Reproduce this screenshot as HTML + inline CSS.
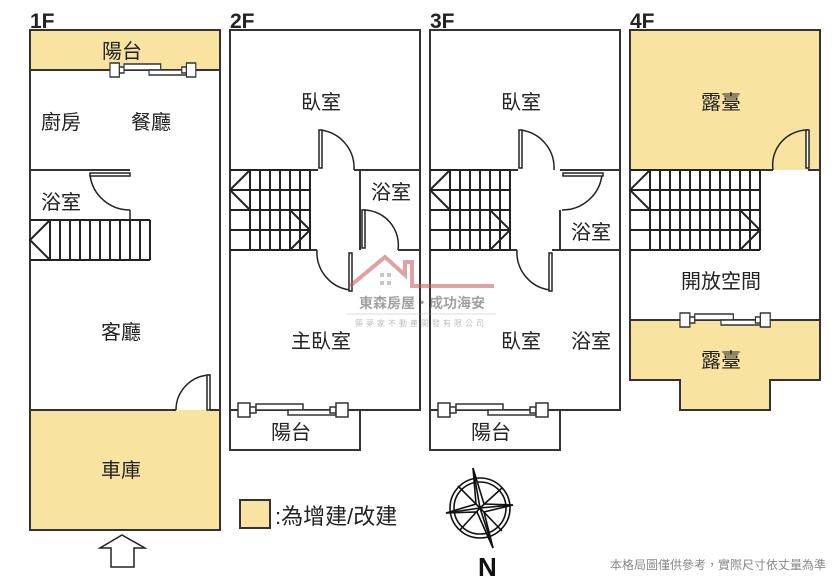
<!DOCTYPE html>
<html><head><meta charset="utf-8"><style>
html,body{margin:0;padding:0;background:#fff;}
svg{display:block;}
text{font-family:"Liberation Sans","Noto Sans CJK TC",sans-serif;fill:#222;}
</style></head><body>
<svg width="840" height="580" viewBox="0 0 840 580" xmlns="http://www.w3.org/2000/svg">
<defs>
<g id="win" fill="#fff" stroke="#333" stroke-width="1.5">
<rect x="0" y="-7" width="12" height="14"/><rect x="12" y="-3" width="6" height="6"/>
<rect x="18" y="-6" width="47" height="6"/><rect x="50" y="0" width="48" height="5"/>
<rect x="92" y="-3" width="6" height="6"/><rect x="98" y="-7" width="12" height="14"/>
</g>
</defs>
<rect width="840" height="580" fill="#fff"/>
<g fill="#f9e3a0" stroke="none">
<rect x="30" y="30" width="190" height="40"/>
<rect x="30" y="410" width="190" height="120"/>
<rect x="630" y="30" width="190" height="140"/>
<path d="M630 320H820V380H770V410H680V380H630Z"/>
<rect x="240" y="500" width="30" height="28"/>
</g>
<g fill="none" stroke="#333" stroke-width="2">
<rect x="30" y="30" width="190" height="500"/>
<line x1="30" y1="70" x2="220" y2="70"/>
<line x1="30" y1="170" x2="130" y2="170"/>
<line x1="30" y1="410" x2="176" y2="410"/>
<line x1="210" y1="410" x2="220" y2="410"/>
<path d="M230 410V30H420V410H360V450H230V410H360"/>
<line x1="230" y1="170" x2="318" y2="170"/><line x1="354" y1="170" x2="420" y2="170"/>
<line x1="360" y1="170" x2="360" y2="250"/>
<line x1="230" y1="250" x2="317" y2="250"/><line x1="398" y1="250" x2="420" y2="250"/>
<path d="M430 410V30H620V410H560V450H430V410H560"/>
<line x1="430" y1="170" x2="518" y2="170"/><line x1="560" y1="170" x2="620" y2="170"/>
<line x1="560" y1="210" x2="560" y2="250"/>
<line x1="430" y1="250" x2="517" y2="250"/><line x1="552" y1="250" x2="620" y2="250"/>
<path d="M630 30H820V380H770V410H680V380H630Z"/>
<line x1="630" y1="170" x2="773" y2="170"/><line x1="808" y1="170" x2="820" y2="170"/>
<line x1="630" y1="320" x2="820" y2="320"/>
<rect x="240" y="500" width="30" height="28"/>
</g>
<g fill="none" stroke="#222" stroke-width="2">
<path d="M30 220H150M30 260H150M50 220V260M60 220V260M70 220V260M80 220V260M90 220V260M100 220V260M110 220V260M120 220V260M130 220V260M140 220V260M150 220V260M50 220L30 240L50 260"/>
<path d="M230 170H310M230 190H310M230 210H310M230 230H310M230 250H310M250 170V250M260 170V250M270 170V250M280 170V250M290 170V250M300 170V250M310 170V250M250 170L230 190L250 210M290 210L310 230L290 250"/>
<path d="M430 170H510M430 190H510M430 210H510M430 230H510M430 250H510M450 170V250M460 170V250M470 170V250M480 170V250M490 170V250M500 170V250M510 170V250M450 170L430 190L450 210M490 210L510 230L490 250"/>
<path d="M630 170H760M630 190H760M630 210H760M630 230H760M630 250H760M650 170V250M660 170V250M670 170V250M680 170V250M690 170V250M700 170V250M710 170V250M720 170V250M730 170V250M740 170V250M750 170V250M760 170V250M650 170L630 190L650 210M740 210L760 230L740 250"/>
</g>
<g fill="none" stroke="#222" stroke-width="1.5">
<path d="M90 175A40 40 0 0 0 130 210"/><rect x="90" y="173" width="40" height="3" fill="#fff"/><line x1="130" y1="210" x2="130" y2="220"/>
<path d="M176 410A35 35 0 0 1 210 375"/><rect x="207" y="375" width="3" height="35" fill="#fff"/>
<path d="M320 130A38 38 0 0 1 354 170"/><rect x="319" y="130" width="3" height="38" fill="#fff"/>
<path d="M317 250A38 38 0 0 0 350 290"/><rect x="349" y="253" width="3" height="38" fill="#fff"/>
<path d="M363 210A35 35 0 0 1 398 250"/><rect x="362" y="210" width="3" height="38" fill="#fff"/>
<path d="M520 130A38 38 0 0 1 554 170"/><rect x="519" y="130" width="3" height="38" fill="#fff"/>
<path d="M517 250A38 38 0 0 0 550 290"/><rect x="549" y="253" width="3" height="38" fill="#fff"/>
<path d="M562 210A40 40 0 0 0 602 175"/><rect x="563" y="173" width="40" height="3" fill="#fff"/>
<path d="M773 170A35 35 0 0 1 808 130"/><rect x="806" y="130" width="3" height="38" fill="#fff"/>
</g>
<use href="#win" transform="translate(110,70) scale(0.78,1)"/>
<use href="#win" transform="translate(238,410)"/>
<use href="#win" transform="translate(438,410)"/>
<use href="#win" transform="translate(680,320) scale(0.82,1)"/>
<g opacity="0.55">
<path d="M350 286L385 257L405 275V262H412V286H494" fill="none" stroke="#c55" stroke-width="4"/>
<g fill="#999"><rect x="380" y="273" width="4" height="4"/><rect x="387" y="273" width="4" height="4"/><rect x="380" y="281" width="4" height="4"/><rect x="387" y="281" width="4" height="4"/></g>
<text x="422" y="308" font-size="14" text-anchor="middle" style="fill:#555;font-weight:bold">東森房屋・成功海安</text>
<line x1="346" y1="314" x2="496" y2="314" stroke="#aaa" stroke-width="0.8"/>
<text x="421" y="326" font-size="8" text-anchor="middle" style="fill:#888;letter-spacing:3px">築夢家不動產開發有限公司</text>
</g>
<path d="M122 535L145 548H134V567H111V548H100Z" fill="#fff" stroke="#222" stroke-width="1.5"/>
<g fill="none" stroke="#111" stroke-width="1.6">
<circle cx="480" cy="508" r="30"/><circle cx="480" cy="508" r="26"/>
<path d="M473 468L484 504L513 505L484 512L493 548L477 512L446 513L476 504Z" fill="#fff"/>
<path d="M473 468L480 508L493 548M446 513L480 508L513 505"/>
<path d="M458 486L480 508L502 531M502 488L480 508L460 530"/>
</g>
<text x="478" y="576" font-size="26" font-weight="bold" style="fill:#111">N</text>
<g font-size="20">
<text x="30" y="28" font-weight="bold" font-size="21">1F</text>
<text x="230" y="28" font-weight="bold" font-size="21">2F</text>
<text x="430" y="28" font-weight="bold" font-size="21">3F</text>
<text x="630" y="28" font-weight="bold" font-size="21">4F</text>
<text x="102" y="58">陽台</text>
<text x="41" y="129">廚房</text>
<text x="131" y="129">餐廳</text>
<text x="41" y="209">浴室</text>
<text x="101" y="339">客廳</text>
<text x="101" y="477">車庫</text>
<text x="301" y="109">臥室</text>
<text x="371" y="199">浴室</text>
<text x="291" y="348">主臥室</text>
<text x="271" y="439">陽台</text>
<text x="501" y="109">臥室</text>
<text x="571" y="239">浴室</text>
<text x="501" y="348">臥室</text>
<text x="571" y="348">浴室</text>
<text x="471" y="439">陽台</text>
<text x="701" y="109">露臺</text>
<text x="681" y="288">開放空間</text>
<text x="701" y="367">露臺</text>
<text x="275" y="524" font-size="22">:為增建/改建</text>
</g>
<text x="826" y="569" font-size="12" text-anchor="end" style="fill:#888">本格局圖僅供參考，實際尺寸依丈量為準</text>
</svg>
</body></html>
